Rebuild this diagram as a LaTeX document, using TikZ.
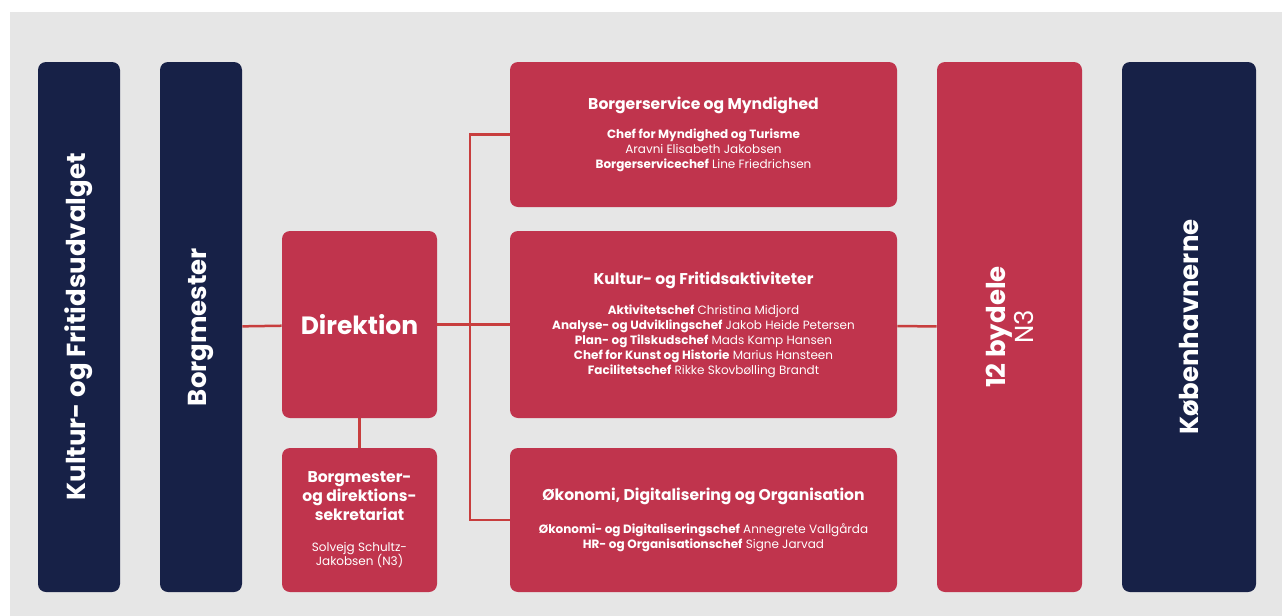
\documentclass[tikz,border=0pt]{standalone}
\usepackage{fontspec}
\setmainfont{Poppins}
\definecolor{navy}{RGB}{23,33,71}
\definecolor{orgred}{RGB}{192,52,77}
\definecolor{linered}{RGB}{200,62,62}
\definecolor{bggray}{RGB}{230,230,230}
\newcommand\boxhead[1]{{\bfseries\fontsize{7.8}{9}\selectfont #1}}
\begin{document}
\begin{tikzpicture}[x=0.5pt,y=-0.5pt,
  navybox/.style={fill=navy, rounded corners=4pt, text=white, inner sep=0pt,
    rotate=90, minimum width=265pt, minimum height=41pt,
    font=\bfseries\fontsize{13}{13}\selectfont},
  redbox/.style={fill=orgred, rounded corners=4pt, text=white, inner sep=0pt,
    align=center, font=\fontsize{6}{7.4}\selectfont},
  link/.style={draw=linered, line width=1.25pt}]
\useasboundingbox (0,0) rectangle (1282,616);
\fill[bggray] (10,12) rectangle (1282,616);

% tall boxes
\node[navybox] (udvalg) at (79,327)   {Kultur- og Fritidsudvalget};
\node[navybox] (borgm)  at (201,327)  {Borgmester};
\node[navybox, fill=orgred, minimum height=72.5pt, align=center] (bydele) at (1009.5,327)
  {12 bydele\\{\mdseries N3}};
\node[navybox, minimum height=67pt] (kbh) at (1189,327) {Københavnerne};

% direktion
\node[redbox, minimum width=77.5pt, minimum height=93.5pt,
  font=\bfseries\fontsize{12.5}{14}\selectfont] (direk) at (359.5,324.5) {Direktion};
\node[redbox, minimum width=77.5pt, minimum height=72pt] (sekr) at (359.5,520)
  {\boxhead{Borgmester-}\\\boxhead{og direktions-}\\\boxhead{sekretariat}\\[8pt]
   Solvejg Schultz-\\Jakobsen (N3)};

% omraader
\node[redbox, minimum width=193.5pt, minimum height=72.5pt] (borger) at (703.5,134.5)
  {\boxhead{Borgerservice og Myndighed}\\[7pt]
   {\bfseries Chef for Myndighed og Turisme}\\
   Aravni Elisabeth Jakobsen\\
   {\bfseries Borgerservicechef} Line Friedrichsen};
\node[redbox, minimum width=193.5pt, minimum height=93.5pt] (aktiv) at (703.5,324.5)
  {\boxhead{Kultur- og Fritidsaktiviteter}\\[8pt]
   {\bfseries Aktivitetschef} Christina Midjord\\
   {\bfseries Analyse- og Udviklingschef} Jakob Heide Petersen\\
   {\bfseries Plan- og Tilskudschef} Mads Kamp Hansen\\
   {\bfseries Chef for Kunst og Historie} Marius Hansteen\\
   {\bfseries Facilitetschef} Rikke Skovbølling Brandt};
\node[redbox, minimum width=193.5pt, minimum height=72pt] (oekon) at (703.5,520)
  {\boxhead{Økonomi, Digitalisering og Organisation}\\[9pt]
   {\bfseries Økonomi- og Digitaliseringschef} Annegrete Vallgårda\\
   {\bfseries HR- og Organisationschef} Signe Jarvad};

% forbindelser
\coordinate (fork) at (470,327);
\draw[link] (borgm) -- (direk);
\draw[link] (direk) -- (aktiv);
\draw[link] (direk) -- (sekr);
\draw[link] (aktiv) -- (bydele);
\draw[link] (borger.west) -| (fork) |- (oekon.west);
\end{tikzpicture}
\end{document}
